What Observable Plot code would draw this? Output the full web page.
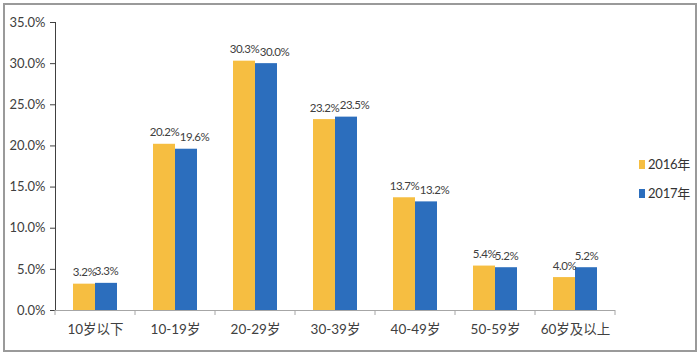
<!DOCTYPE html>
<html>
<head>
<meta charset="utf-8">
<script src="https://cdn.jsdelivr.net/npm/d3@7"></script>
<script src="https://cdn.jsdelivr.net/npm/@observablehq/plot@0.6"></script>
<style>
  html, body { margin: 0; padding: 0; background: #fff; }
  #wrap { position: relative; width: 700px; height: 356px; font-family: Lato, "Noto Sans CJK SC", sans-serif; }
  #legend { position: absolute; left: 639px; top: 150px; font-size: 13px; color: #333; line-height: 29px; letter-spacing: -0.2px; }
  #legend .sw { display: inline-block; width: 6px; height: 9px; margin-right: 3px; vertical-align: 0px; }
</style>
</head>
<body>
<div id="wrap"></div>
<script>
const categories = ["10岁以下", "10-19岁", "20-29岁", "30-39岁", "40-49岁", "50-59岁", "60岁及以上"];
const years = ["2016年", "2017年"];
const v2016 = [3.2, 20.2, 30.3, 23.2, 13.7, 5.4, 4.0];
const v2017 = [3.3, 19.6, 30.0, 23.5, 13.2, 5.2, 5.2];
const yTicks = [0, 5, 10, 15, 20, 25, 30, 35];
const colors = ["#F6BE41", "#2C6EBD"];

const data = categories.flatMap((c, i) => [
  {cat: c, year: years[0], v: v2016[i]},
  {cat: c, year: years[1], v: v2017[i]}
]);

// wide (two-digit) 2017 labels are nudged right to clear the 2016 label, as in the source
const label2016 = data.filter(d => d.year === years[0] || d.v < 10);
const label2017wide = data.filter(d => d.year === years[1] && d.v >= 10);
const fmt = d => d.v.toFixed(1) + "%";
const labelStyle = {fx: "cat", x: "year", y: "v", text: fmt, dy: -8, lineAnchor: "bottom", fontSize: 11.5, fill: "#404040"};

const chart = Plot.plot({
  width: 700,
  height: 356,
  marginLeft: 52,
  marginRight: 82,
  marginTop: 22,
  marginBottom: 46,
  style: {fontFamily: 'Lato, "Noto Sans CJK SC", sans-serif', fontSize: "13px", color: "#404040", background: "white"},
  fx: {domain: categories, paddingInner: 0, paddingOuter: 0, label: null, tickSize: 0, tickPadding: 14, axis: "bottom"},
  x: {domain: years, paddingInner: 0, paddingOuter: 0.76, axis: null},
  y: {domain: [0, 35], ticks: yTicks, tickFormat: d => d.toFixed(1) + "%", label: null, tickSize: 5, tickPadding: 5, line: true},
  color: {domain: years, range: colors},
  marks: [
    Plot.barY(data, {fx: "cat", x: "year", y: "v", fill: "year"}),
    Plot.text(label2016, labelStyle),
    Plot.text(label2017wide, {...labelStyle, dx: 8}),
    Plot.ruleY([0], {stroke: "#a6a6a6"})
  ]
});

const svg = d3.select(chart);
svg.selectAll('g[aria-label^="y-axis"]').attr("stroke", "#a6a6a6");
svg.selectAll('g[aria-label="y-axis tick label"]').attr("fill", "#404040").attr("stroke", null);
svg.selectAll('g[aria-label="text"] text').style("letter-spacing", "-0.45px");
svg.selectAll('g[aria-label="fx-axis tick label"] text').style("font-size", "13.5px");

// boundary ticks under the x axis, at group edges from the fx scale
const fx = chart.scale("fx");
const y = chart.scale("y");
const y0 = y.apply(0);
const edges = categories.map(c => fx.apply(c)).concat([fx.apply(categories[categories.length - 1]) + fx.bandwidth]);
svg.append("g").selectAll("line").data(edges).join("line")
  .attr("x1", d => d).attr("x2", d => d)
  .attr("y1", y0).attr("y2", y0 + 5)
  .attr("stroke", "#a6a6a6");

// outer border
svg.append("rect").attr("x", 4).attr("y", 4).attr("width", 692).attr("height", 347)
  .attr("fill", "none").attr("stroke", "#9a9a9a").attr("stroke-width", 2);

const wrap = document.getElementById("wrap");
wrap.appendChild(chart);

const legend = document.createElement("div");
legend.id = "legend";
legend.innerHTML = years.map((yr, i) =>
  `<div><span class="sw" style="background:${colors[i]}"></span>${yr}</div>`).join("");
wrap.appendChild(legend);
</script>
</body>
</html>
